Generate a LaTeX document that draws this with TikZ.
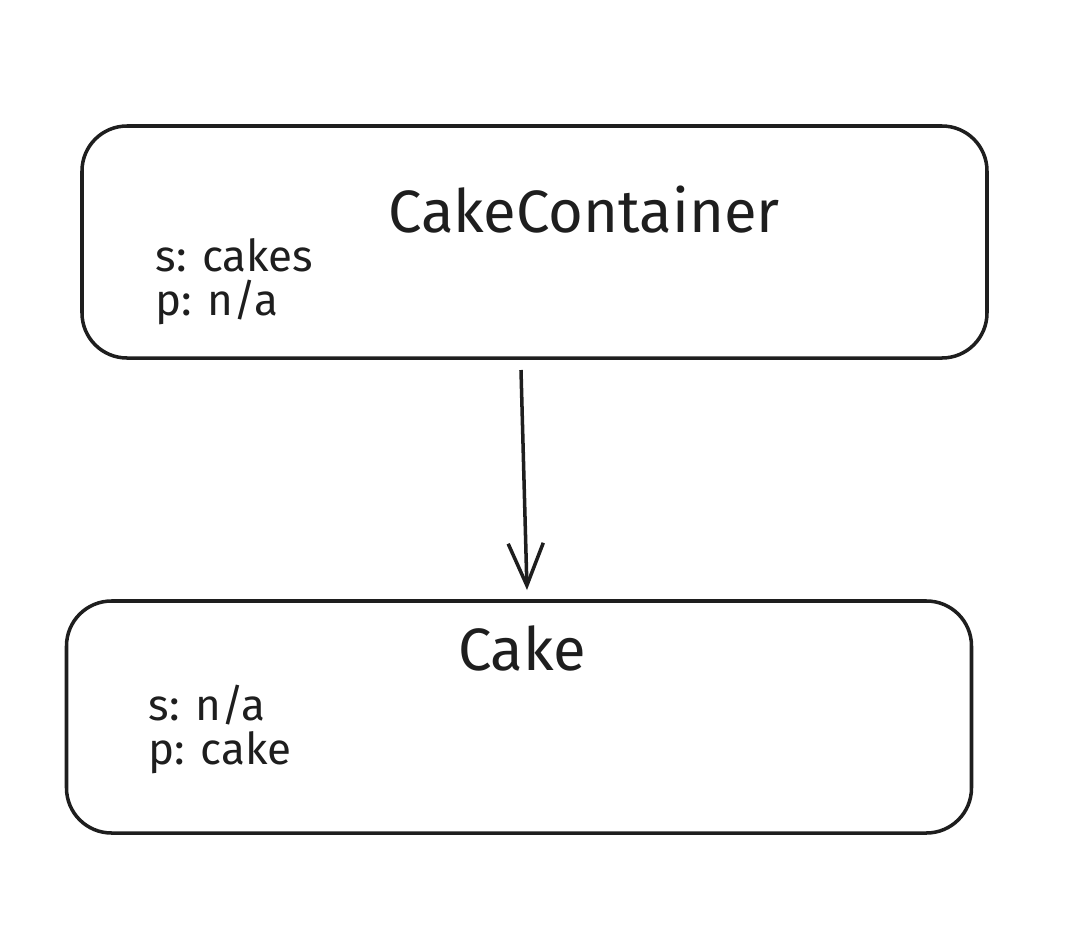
\documentclass[tikz,border=0pt]{standalone}
\usepackage{fontspec}
\setmainfont{Fira Sans}
\usetikzlibrary{arrows.meta}
\definecolor{inkBlack}{RGB}{30, 30, 30}

\tikzset{
  classbox/.style={draw=inkBlack, line width=1pt, rounded corners=0.45cm,
    minimum width=9.05cm, minimum height=2.32cm, inner sep=0pt},
  classtitle/.style={text=inkBlack, font=\fontsize{17}{20}\selectfont},
  classfield/.style={text=inkBlack, anchor=west, inner sep=0pt,
    font=\fontsize{12.5}{15}\selectfont}
}

\begin{document}
\begin{tikzpicture}[scale=1]
      \useasboundingbox (0,0) rectangle (10.9,-9.52);

      % Container box
      \node[classbox] (container) at (5.345,-2.42) {};
      \node[classtitle] (containertitle) at (5.84,-2.10) {CakeContainer};
      \node[classfield] (containers) at (1.55,-2.55) {s: cakes};
      \node[classfield] (containerp) at (1.55,-3.02) {p: n/a};

      % Cake box
      \node[classbox] (cake) at (5.19,-7.17) {};
      \node[classtitle] (caketitle) at (5.22,-6.48) {Cake};
      \node[classfield] (cakes) at (1.48,-7.05) {s: n/a};
      \node[classfield] (cakep) at (1.48,-7.53) {p: cake};

      % Arrow from container to cake
      \coordinate (arrowtop) at (5.21,-3.70);
      \coordinate (arrowtip) at (5.27,-5.90);
      \draw[inkBlack, line width=1pt, -{Straight Barb[length=12pt, width=10pt]}]
        (arrowtop) -- (arrowtip);
    \end{tikzpicture}
\end{document}
